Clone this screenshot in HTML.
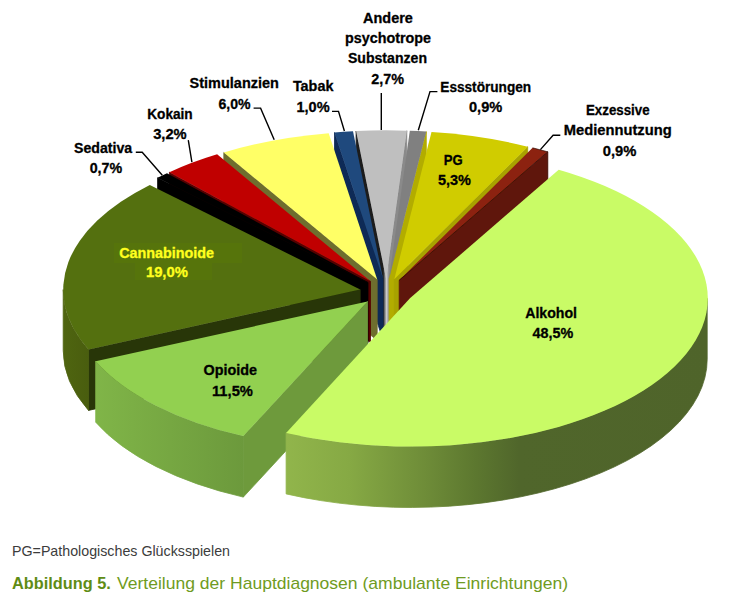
<!DOCTYPE html>
<html lang="de">
<head>
<meta charset="utf-8">
<title>Abbildung 5. Verteilung der Hauptdiagnosen (ambulante Einrichtungen)</title>
<style>
html,body{margin:0;padding:0;background:#fff;}
body{width:750px;height:598px;overflow:hidden;position:relative;font-family:"Liberation Sans",sans-serif;}
svg{position:absolute;left:0;top:0;display:block;}
.lbl text{font-family:"Liberation Sans",sans-serif;font-weight:bold;font-size:14.5px;text-anchor:start;stroke-width:0.3px;paint-order:stroke;}
</style>
</head>
<body>
<svg width="750" height="598" viewBox="0 0 750 598">
<defs>
<linearGradient id="gAlk" gradientUnits="userSpaceOnUse" x1="286" y1="0" x2="710" y2="0">
<stop offset="0" stop-color="#91b54b"/>
<stop offset="0.15" stop-color="#86a944"/>
<stop offset="0.33" stop-color="#6e8c38"/>
<stop offset="0.45" stop-color="#5c772f"/>
<stop offset="0.55" stop-color="#50662b"/>
<stop offset="1" stop-color="#4f642a"/>
</linearGradient>
<linearGradient id="gAnd" gradientUnits="userSpaceOnUse" x1="383.2" y1="0" x2="390.4" y2="0">
<stop offset="0" stop-color="#1c1c1c"/>
<stop offset="0.18" stop-color="#6a6a6a"/>
<stop offset="0.45" stop-color="#cacaca"/>
<stop offset="0.8" stop-color="#8e8e8e"/>
<stop offset="1" stop-color="#8a8a8a"/>
</linearGradient>
<linearGradient id="gOpi" gradientUnits="userSpaceOnUse" x1="95" y1="0" x2="245" y2="0">
<stop offset="0" stop-color="#80b548"/>
<stop offset="1" stop-color="#6c993c"/>
</linearGradient>
<linearGradient id="gCan" gradientUnits="userSpaceOnUse" x1="62" y1="0" x2="100" y2="0">
<stop offset="0" stop-color="#4f6510"/>
<stop offset="1" stop-color="#475a0e"/>
</linearGradient>
</defs>
<g id="walls" stroke-width="0.8" stroke-linejoin="round">
<path d="M386.1 278.7L356.1 131.1L356.1 192.1L386.1 339.7Z" fill="url(#gAnd)" stroke="url(#gAnd)"/>
<path d="M386.1 278.7L406.8 130.7L406.8 191.7L386.1 339.7Z" fill="url(#gAnd)" stroke="url(#gAnd)"/>
<path d="M389.1 278.7L426.3 131.6L426.3 192.6L389.1 339.7Z" fill="#b2ac00" stroke="#b2ac00"/>
<path d="M383.0 278.8L334.5 132.5L334.5 193.5L383.0 339.8Z" fill="#0e2a56" stroke="#0e2a56"/>
<path d="M394.3 279.2L527.7 146.7L527.7 207.7L394.3 340.2Z" fill="#a8a200" stroke="#a8a200"/>
<path d="M399.2 280.3L547.7 151.8L547.7 212.8L399.2 341.3Z" fill="#5f160c" stroke="#5f160c"/>
<path d="M377.2 279.5L223.8 152.5L223.8 213.5L377.2 340.5Z" fill="#6e6e2e" stroke="#6e6e2e"/>
<path d="M370.5 281.3L169.4 172.2L169.4 233.2L370.5 342.3Z" fill="#560000" stroke="#560000"/>
<path d="M368.0 282.4L157.6 177.7L157.6 238.7L368.0 343.4Z" fill="#000000" stroke="#000000"/>
<path d="M360.2 289.6L88.5 349.4L88.5 410.4L360.2 350.6Z" fill="#283608" stroke="#283608"/>
<path d="M88.5 349.4A297.0 148.3 0 0 1 63.2 289.6L63.2 350.6A297.0 148.3 0 0 0 88.5 410.4Z" fill="url(#gCan)" stroke="url(#gCan)"/>
<path d="M367.5 301.4L243.3 436.1L243.3 497.1L367.5 362.4Z" fill="#6e9a3c" stroke="#6e9a3c"/>
<path d="M243.3 436.1A297.0 148.3 0 0 1 95.7 361.2L95.7 422.2A297.0 148.3 0 0 0 243.3 497.1Z" fill="url(#gOpi)" stroke="url(#gOpi)"/>
<path d="M707.2 298.1A297.0 148.3 0 0 1 286.1 432.9L286.1 493.9A297.0 148.3 0 0 0 707.2 359.1Z" fill="url(#gAlk)" stroke="url(#gAlk)"/>
</g>
<g id="tops">
<path d="M386.1 278.7L356.1 131.1A297.0 148.3 0 0 1 406.8 130.7Z" fill="#bfbfbf"/>
<path d="M389.1 278.7L409.8 130.8A297.0 148.3 0 0 1 426.3 131.6Z" fill="#808080"/>
<path d="M383.0 278.8L334.5 132.5A297.0 148.3 0 0 1 353.0 131.2Z" fill="#1f497d"/>
<path d="M394.3 279.2L431.5 132.1A297.0 148.3 0 0 1 527.7 146.7Z" fill="#d0cc00"/>
<path d="M399.2 280.3L532.6 147.8A297.0 148.3 0 0 1 547.7 151.8Z" fill="#8c2210"/>
<path d="M377.2 279.5L223.8 152.5A297.0 148.3 0 0 1 328.7 133.2Z" fill="#ffff66"/>
<path d="M370.5 281.3L169.4 172.2A297.0 148.3 0 0 1 217.1 154.3Z" fill="#c00000"/>
<path d="M368.0 282.4L157.6 177.7A297.0 148.3 0 0 1 167.0 173.2Z" fill="#000000"/>
<path d="M360.2 289.6L88.5 349.4A297.0 148.3 0 0 1 149.8 184.9Z" fill="#54700f"/>
<path d="M367.5 301.4L243.3 436.1A297.0 148.3 0 0 1 95.7 361.2Z" fill="#92d050"/>
<path d="M410.2 298.1L558.7 169.7A297.0 148.3 0 0 1 286.1 432.9Z" fill="#c9fb66"/>
</g>
<g id="halo" fill="#5a7a06" opacity="0.4">
<rect x="114" y="243" width="128" height="20"/>
<rect x="135" y="263" width="77" height="17"/>
</g>
<path d="M399.2 280.3L547.7 151.8L532.6 147.8" fill="none" stroke="#1e0703" stroke-width="0.6"/><path d="M547.7 151.8v27" fill="none" stroke="#2a0a05" stroke-width="0.5"/>
<g id="leaders" fill="none" stroke="#000" stroke-width="1.4" stroke-linejoin="miter">
<polyline points="135.8,152.2 142.2,152.2 162.3,175.3"/>
<polyline points="188.3,140.2 191.9,162.2"/>
<polyline points="253.6,108.1 260.6,108.1 274.2,139.8"/>
<polyline points="332.0,111.4 338.5,111.4 344.4,131.0"/>
<polyline points="381.3,92.9 381.3,129.9"/>
<polyline points="437.4,91.6 430.0,91.6 418.3,130.2"/>
<polyline points="560.3,135.2 553.1,135.2 540.4,149.6"/>
</g>
<g class="lbl">
<text x="363.1" y="22.7" fill="#000" stroke="#000" textLength="49.8" lengthAdjust="spacingAndGlyphs">Andere</text>
<text x="345.1" y="43.3" fill="#000" stroke="#000" textLength="85.9" lengthAdjust="spacingAndGlyphs">psychotrope</text>
<text x="347.9" y="63.2" fill="#000" stroke="#000" textLength="79.1" lengthAdjust="spacingAndGlyphs">Substanzen</text>
<text x="371.3" y="84.2" fill="#000" stroke="#000" textLength="32.7" lengthAdjust="spacingAndGlyphs">2,7%</text>
<text x="440.3" y="91.6" fill="#000" stroke="#000" textLength="90.8" lengthAdjust="spacingAndGlyphs">Essstörungen</text>
<text x="469.0" y="111.5" fill="#000" stroke="#000" textLength="33.3" lengthAdjust="spacingAndGlyphs">0,9%</text>
<text x="586.0" y="114.8" fill="#000" stroke="#000" textLength="63.6" lengthAdjust="spacingAndGlyphs">Exzessive</text>
<text x="563.7" y="134.7" fill="#000" stroke="#000" textLength="108.0" lengthAdjust="spacingAndGlyphs">Mediennutzung</text>
<text x="602.8" y="155.6" fill="#000" stroke="#000" textLength="33.6" lengthAdjust="spacingAndGlyphs">0,9%</text>
<text x="292.9" y="90.8" fill="#000" stroke="#000" textLength="40.5" lengthAdjust="spacingAndGlyphs">Tabak</text>
<text x="296.4" y="111.9" fill="#000" stroke="#000" textLength="33.2" lengthAdjust="spacingAndGlyphs">1,0%</text>
<text x="189.6" y="88.1" fill="#000" stroke="#000" textLength="89.3" lengthAdjust="spacingAndGlyphs">Stimulanzien</text>
<text x="218.5" y="108.5" fill="#000" stroke="#000" textLength="32.1" lengthAdjust="spacingAndGlyphs">6,0%</text>
<text x="147.2" y="119.1" fill="#000" stroke="#000" textLength="45.5" lengthAdjust="spacingAndGlyphs">Kokain</text>
<text x="153.2" y="139.2" fill="#000" stroke="#000" textLength="33.5" lengthAdjust="spacingAndGlyphs">3,2%</text>
<text x="74.0" y="152.6" fill="#000" stroke="#000" textLength="58.2" lengthAdjust="spacingAndGlyphs">Sedativa</text>
<text x="89.7" y="172.7" fill="#000" stroke="#000" textLength="32.5" lengthAdjust="spacingAndGlyphs">0,7%</text>
<text x="119.2" y="257.7" fill="#ffff1e" stroke="#ffff1e" textLength="94.9" lengthAdjust="spacingAndGlyphs">Cannabinoide</text>
<text x="145.9" y="277.4" fill="#ffff1e" stroke="#ffff1e" textLength="42.0" lengthAdjust="spacingAndGlyphs">19,0%</text>
<text x="203.5" y="375.3" fill="#000" stroke="#000" textLength="53.5" lengthAdjust="spacingAndGlyphs">Opioide</text>
<text x="212.0" y="395.5" fill="#000" stroke="#000" textLength="40.9" lengthAdjust="spacingAndGlyphs">11,5%</text>
<text x="525.2" y="317.6" fill="#000" stroke="#000" textLength="51.8" lengthAdjust="spacingAndGlyphs">Alkohol</text>
<text x="532.6" y="337.7" fill="#000" stroke="#000" textLength="40.7" lengthAdjust="spacingAndGlyphs">48,5%</text>
<text x="443.8" y="164.6" fill="#000" stroke="#000" textLength="18.9" lengthAdjust="spacingAndGlyphs">PG</text>
<text x="437.9" y="184.7" fill="#000" stroke="#000" textLength="33.0" lengthAdjust="spacingAndGlyphs">5,3%</text>
</g>
<g font-family="'Liberation Sans',sans-serif">
<text x="12" y="555.6" font-size="14.3" fill="#3c3c3c" textLength="218" lengthAdjust="spacingAndGlyphs">PG=Pathologisches Glücksspielen</text>
<text x="12" y="588.7" font-size="16.6" font-weight="bold" fill="#5f8c14" textLength="98.8" lengthAdjust="spacingAndGlyphs">Abbildung 5.</text>
<text x="117" y="588.7" font-size="16.6" fill="#6f9b22" textLength="451" lengthAdjust="spacingAndGlyphs">Verteilung der Hauptdiagnosen (ambulante Einrichtungen)</text>
</g>
</svg>
</body>
</html>
